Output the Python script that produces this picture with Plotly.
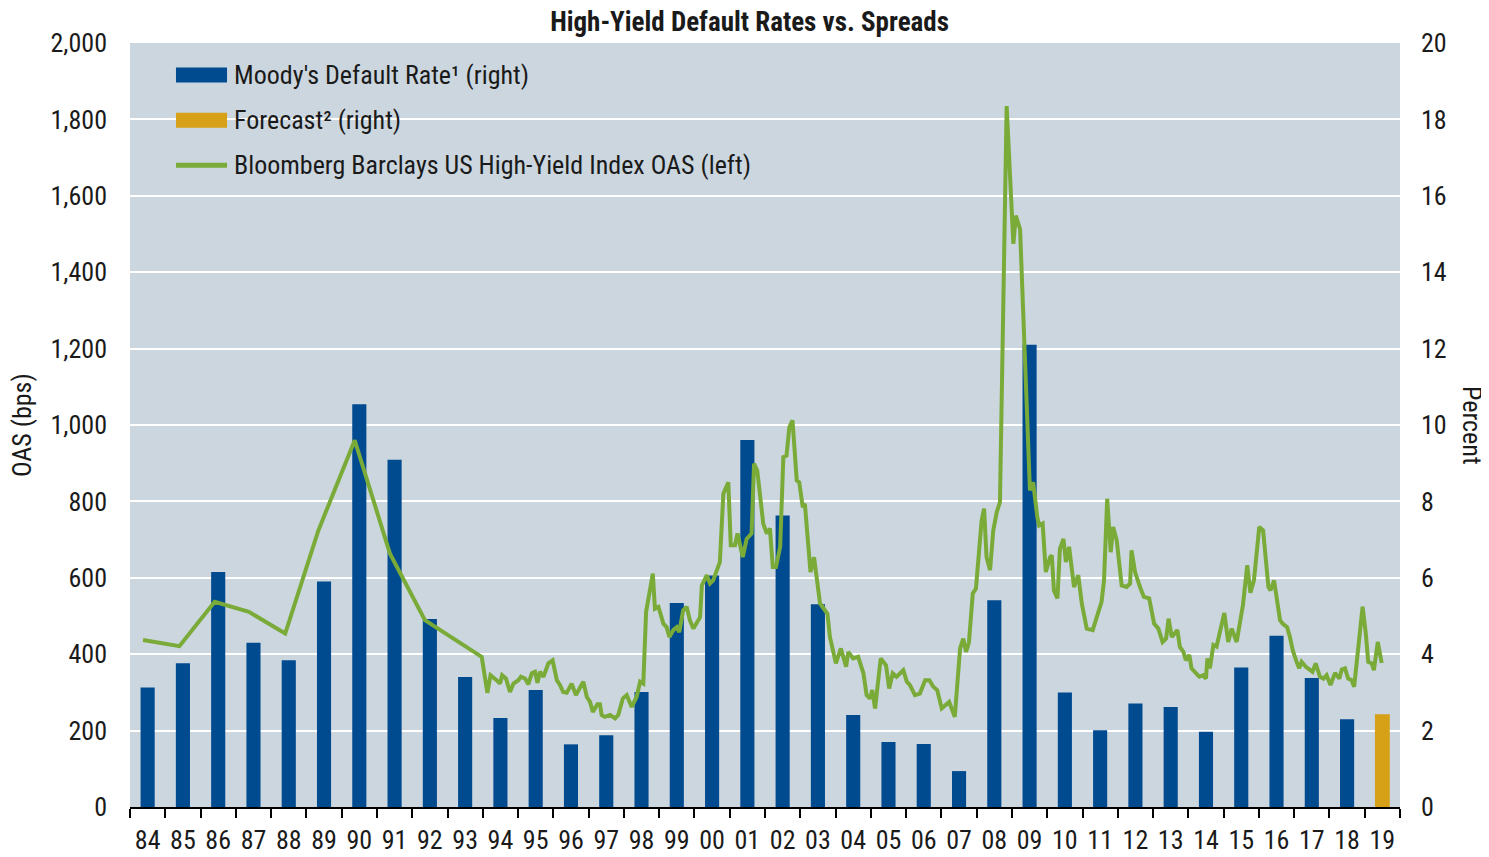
import plotly.graph_objects as go

# ---------------- data ----------------
years = ["84", "85", "86", "87", "88", "89", "90", "91", "92", "93", "94", "95",
         "96", "97", "98", "99", "00", "01", "02", "03", "04", "05", "06", "07",
         "08", "09", "10", "11", "12", "13", "14", "15", "16", "17", "18", "19"]

default_years = years[:-1]
default_rate = [3.13, 3.76, 6.15, 4.30, 3.84, 5.90, 10.54, 9.09, 4.92, 3.40, 2.33, 3.06,
                1.64, 1.88, 3.01, 5.34, 6.06, 9.61, 7.63, 5.31, 2.41, 1.70, 1.65, 0.94,
                5.41, 12.10, 3.00, 2.01, 2.71, 2.62, 1.97, 3.65, 4.48, 3.38, 2.30]

forecast_years = ["19"]
forecast_rate = [2.43]

# OAS observations (time in fractional years, value in bps)
oas_time = [
    1983.87, 1984.90, 1985.90, 1986.87, 1987.90, 1988.84, 1989.87, 1990.87, 1991.86, 1993.47,
    1993.63, 1993.72, 1993.89, 1993.99, 1994.05, 1994.16, 1994.27, 1994.37, 1994.51, 1994.58,
    1994.70, 1994.79, 1994.89, 1994.98, 1995.05, 1995.12, 1995.22, 1995.36, 1995.48, 1995.60,
    1995.69, 1995.78, 1995.88, 1996.02, 1996.14, 1996.26, 1996.35, 1996.45, 1996.54, 1996.62,
    1996.75, 1996.82, 1996.87, 1996.96, 1997.11, 1997.25, 1997.34, 1997.47, 1997.58, 1997.72,
    1997.86, 1997.96, 1998.05, 1998.13, 1998.32, 1998.38, 1998.48, 1998.62, 1998.71, 1998.79,
    1998.90, 1999.00, 1999.07, 1999.18, 1999.28, 1999.37, 1999.47, 1999.66, 1999.71, 1999.85,
    1999.94, 2000.03, 2000.22, 2000.32, 2000.46, 2000.53, 2000.65, 2000.72, 2000.87, 2000.98,
    2001.12, 2001.19, 2001.28, 2001.45, 2001.55, 2001.64, 2001.72, 2001.81, 2001.93, 2002.02,
    2002.11, 2002.19, 2002.28, 2002.40, 2002.47, 2002.57, 2002.63, 2002.79, 2002.89, 2003.06,
    2003.17, 2003.27, 2003.34, 2003.51, 2003.65, 2003.80, 2003.86, 2004.00, 2004.14, 2004.29,
    2004.38, 2004.48, 2004.54, 2004.62, 2004.78, 2004.93, 2005.02, 2005.12, 2005.23, 2005.42,
    2005.52, 2005.61, 2005.75, 2005.89, 2006.04, 2006.16, 2006.27, 2006.38, 2006.51, 2006.63,
    2006.72, 2006.88, 2006.98, 2007.03, 2007.12, 2007.20, 2007.28, 2007.39, 2007.48, 2007.64,
    2007.71, 2007.78, 2007.88, 2007.97, 2008.07, 2008.16, 2008.35, 2008.54, 2008.61, 2008.73,
    2009.01, 2009.10, 2009.22, 2009.27, 2009.37, 2009.46, 2009.58, 2009.63, 2009.69, 2009.79,
    2009.86, 2009.96, 2010.03, 2010.12, 2010.26, 2010.38, 2010.48, 2010.62, 2010.79, 2010.90,
    2011.04, 2011.11, 2011.20, 2011.30, 2011.37, 2011.47, 2011.61, 2011.75, 2011.85, 2011.89,
    2011.99, 2012.13, 2012.24, 2012.39, 2012.53, 2012.65, 2012.77, 2012.87, 2012.94, 2013.03,
    2013.19, 2013.26, 2013.36, 2013.43, 2013.53, 2013.59, 2013.74, 2013.81, 2013.92, 2014.00,
    2014.04, 2014.11, 2014.21, 2014.30, 2014.52, 2014.63, 2014.73, 2014.87, 2015.05, 2015.17,
    2015.26, 2015.36, 2015.51, 2015.62, 2015.77, 2015.83, 2015.93, 2016.10, 2016.17, 2016.30,
    2016.38, 2016.46, 2016.57, 2016.64, 2016.71, 2016.83, 2017.02, 2017.11, 2017.23, 2017.33,
    2017.42, 2017.53, 2017.66, 2017.78, 2017.85, 2017.94, 2018.03, 2018.13, 2018.20, 2018.34,
    2018.44, 2018.53, 2018.60, 2018.70, 2018.76, 2018.87, 2018.98,
]
oas_bps = [
    437, 421, 537, 511, 454, 724, 960, 663, 489, 393,
    299, 345, 332, 323, 345, 336, 301, 323, 332, 341,
    336, 321, 350, 354, 325, 354, 341, 376, 384, 332,
    319, 301, 299, 323, 293, 315, 328, 288, 275, 249,
    269, 269, 241, 236, 241, 232, 241, 284, 293, 262,
    288, 328, 323, 511, 611, 519, 524, 480, 471, 445,
    463, 471, 458, 515, 524, 489, 467, 497, 580, 607,
    585, 593, 641, 820, 850, 685, 685, 716, 654, 702,
    716, 899, 881, 742, 716, 729, 628, 628, 681, 916,
    920, 994, 1012, 855, 850, 785, 794, 615, 654, 533,
    519, 506, 445, 376, 415, 367, 406, 389, 393, 350,
    293, 284, 306, 258, 389, 371, 310, 350, 341, 358,
    328, 319, 293, 297, 332, 332, 315, 306, 258, 267,
    275, 236, 376, 415, 441, 406, 430, 559, 572, 750,
    781, 654, 620, 724, 772, 798, 1835, 1474, 1548, 1513,
    829, 850, 759, 737, 742, 615, 654, 659, 567, 546,
    676, 702, 641, 681, 576, 607, 533, 467, 463, 497,
    537, 593, 807, 667, 733, 698, 580, 576, 585, 672,
    615, 576, 550, 546, 480, 467, 432, 441, 493, 445,
    463, 419, 406, 384, 398, 363, 350, 341, 345, 336,
    389, 363, 424, 420, 508, 432, 467, 432, 530, 633,
    561, 593, 733, 724, 576, 567, 593, 489, 480, 471,
    445, 410, 380, 363, 380, 367, 354, 376, 341, 336,
    345, 319, 351, 336, 360, 363, 336, 332, 315, 424,
    524, 454, 380, 376, 358, 432, 377,
]

title_text = "High-Yield Default Rates vs. Spreads"
left_ticks = [0, 200, 400, 600, 800, 1000, 1200, 1400, 1600, 1800, 2000]
left_ticktext = ["0", "200", "400", "600", "800", "1,000", "1,200", "1,400", "1,600", "1,800", "2,000"]
right_ticks = [0, 2, 4, 6, 8, 10, 12, 14, 16, 18, 20]
legend_labels = ["Moody's Default Rate\u00b9 (right)", "Forecast\u00b2 (right)",
                 "Bloomberg Barclays US High-Yield Index OAS (left)"]

# ---------------- styles ----------------
FONT = "Liberation Sans Narrow, Arial Narrow, Roboto Condensed, DejaVu Sans Condensed, sans-serif"
BLUE = "#004a90"
GOLD = "#d6a116"
GREEN = "#7aab39"
BG = "#cbd6df"
TXT = "#1a1a1a"

# the page body adds an 8px margin, so the figure is sized to fit inside the window
W, H = 1481, 849

fig = go.Figure()

fig.add_trace(go.Bar(x=default_years, y=default_rate, marker=dict(color=BLUE, line=dict(width=0)),
                     width=0.4, xaxis="x", yaxis="y", showlegend=False, name=legend_labels[0]))
fig.add_trace(go.Bar(x=forecast_years, y=forecast_rate, marker=dict(color=GOLD, line=dict(width=0)),
                     width=0.42, xaxis="x", yaxis="y", showlegend=False, name=legend_labels[1]))
fig.add_trace(go.Scatter(x=oas_time, y=oas_bps, mode="lines",
                         line=dict(color=GREEN, width=4), xaxis="x2", yaxis="y2",
                         showlegend=False, name=legend_labels[2]))

fig.update_layout(
    width=W, height=H,
    margin=dict(l=122, r=89, t=35, b=50, autoexpand=False),
    paper_bgcolor="white", plot_bgcolor=BG,
    barmode="overlay",
    font=dict(family=FONT, size=26, color=TXT),
    title=dict(text="<b>" + title_text + "</b>", x=0.5007, xanchor="center", y=0.984, yanchor="middle",
               yref="container", pad=dict(t=0, b=0, l=0, r=0), automargin=False,
               font=dict(family=FONT, size=27, color=TXT)),
    xaxis=dict(type="category", categoryorder="array", categoryarray=years,
               range=[-0.5, len(years) - 0.5], tickson="boundaries", ticks="outside",
               ticklen=9, tickwidth=2, tickcolor="black", showline=True, linecolor="black",
               linewidth=2, showgrid=False, zeroline=False, ticklabelstandoff=9,
               tickangle=0, automargin=False, tickfont=dict(size=26)),
    xaxis2=dict(overlaying="x", range=[1983.5, 2019.5], visible=False),
    yaxis=dict(side="right", range=[0, 20], tickvals=right_ticks, showgrid=True,
               gridcolor="white", gridwidth=2, zeroline=False, showline=False, ticks="",
               ticklabelstandoff=20, automargin=False, tickfont=dict(size=26)),
    yaxis2=dict(side="left", overlaying="y", range=[0, 2000], tickvals=left_ticks,
                ticktext=left_ticktext, showgrid=False, zeroline=False, showline=False,
                ticks="", ticklabelstandoff=22, automargin=False, tickfont=dict(size=26)),
)

# axis titles
fig.add_annotation(text="OAS (bps)", xref="paper", yref="paper", x=-0.085, y=0.5,
                   textangle=-90, showarrow=False, font=dict(size=26), xanchor="center", yanchor="middle")
fig.add_annotation(text="Percent", xref="paper", yref="paper", x=1.0567, y=0.5,
                   textangle=90, showarrow=False, font=dict(size=26), xanchor="center", yanchor="middle")

# legend (drawn inside the plot, top-left)
sw_x0, sw_x1, txt_x = 0.0362, 0.0764, 0.0803
rows = [0.958, 0.899, 0.840]
sw_h = 0.0098
fig.add_shape(type="rect", xref="paper", yref="paper", x0=sw_x0, x1=sw_x1,
              y0=rows[0] - sw_h, y1=rows[0] + sw_h, fillcolor=BLUE, line=dict(width=0))
fig.add_shape(type="rect", xref="paper", yref="paper", x0=sw_x0, x1=sw_x1,
              y0=rows[1] - sw_h, y1=rows[1] + sw_h, fillcolor=GOLD, line=dict(width=0))
fig.add_shape(type="line", xref="paper", yref="paper", x0=sw_x0, x1=sw_x1,
              y0=rows[2], y1=rows[2], line=dict(color=GREEN, width=5))
for lbl, yy in zip(legend_labels, rows):
    fig.add_annotation(text=lbl, xref="paper", yref="paper", x=txt_x, y=yy, xanchor="left",
                       yanchor="middle", showarrow=False, font=dict(size=26))

fig.write_html("out.html")
